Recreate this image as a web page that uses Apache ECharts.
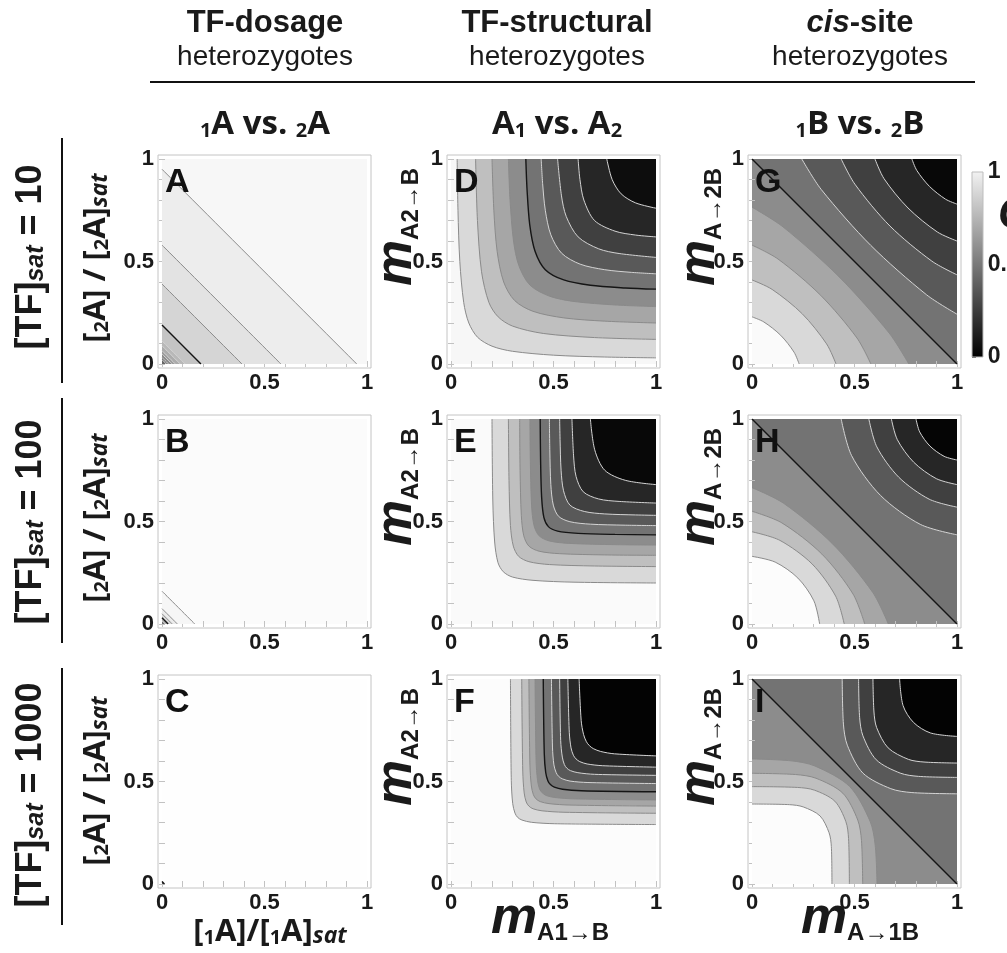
<!DOCTYPE html>
<html>
<head>
<meta charset="utf-8">
<script src="https://cdn.jsdelivr.net/npm/echarts@6/dist/echarts.min.js"></script>
<style>
  html, body { margin: 0; background: #fff; }
  #chart { width: 1007px; height: 953px; }
</style>
</head>
<body>
<div id="chart"></div>
<script>
// shared axis ticks
const tickValues = [0, 0.5, 1];
const tickLabels = ['0', '0.5', '1'];
const minorTicks = [0, 0.1, 0.2, 0.3, 0.4, 0.5, 0.6, 0.7, 0.8, 0.9, 1];
const barTicks = [0, 0.05, 0.1, 0.15, 0.2, 0.25, 0.3, 0.35, 0.4, 0.45, 0.5,
  0.55, 0.6, 0.65, 0.7, 0.75, 0.8, 0.85, 0.9, 0.95, 1];
const barLabels = [0, 0.5, 1];

// A: TF-dosage, [TF]sat = 10
const levelsA = [0.95, 0.91, 0.87, 0.8, 0.74, 0.7, 0.64, 0.58, 0.5, 0.42];
const linesA = [
  [[0, 0.95], [0.95, 0]], [[0, 0.58], [0.58, 0]], [[0, 0.39], [0.39, 0]],
  [[0, 0.19], [0.19, 0]], [[0, 0.113], [0.113, 0]], [[0, 0.089], [0.089, 0]],
  [[0, 0.065], [0.065, 0]], [[0, 0.049], [0.049, 0]], [[0, 0.032], [0.032, 0]],
  [[0, 0.021], [0.021, 0]]
];
const rangeA = [0.4, 0.97];

// B: TF-dosage, [TF]sat = 100
const levelsB = [0.98, 0.95, 0.9, 0.8, 0.6];
const linesB = [
  [[0, 0.16], [0.16, 0]], [[0, 0.075], [0.075, 0]], [[0, 0.05], [0.05, 0]],
  [[0, 0.03], [0.03, 0]], [[0, 0.015], [0.015, 0]]
];
const rangeB = [0.45, 0.985];

// C: TF-dosage, [TF]sat = 1000
const levelsC = [0.6];
const linesC = [[[0, 0.012], [0.012, 0]]];
const rangeC = [0.35, 0.995];

// D: TF-structural, [TF]sat = 10
const levelsD = [0.9, 0.8, 0.7, 0.6, 0.5, 0.4, 0.3, 0.2, 0.1];
const linesD = [
  [[0.03, 1], [0.034, 0.75], [0.043, 0.5], [0.062, 0.3], [0.087, 0.2], [0.13, 0.13], [0.2, 0.087], [0.3, 0.062], [0.5, 0.043], [0.75, 0.034], [1, 0.03]],
  [[0.12, 1], [0.129, 0.7], [0.149, 0.45], [0.185, 0.3], [0.23, 0.23], [0.3, 0.185], [0.45, 0.149], [0.7, 0.129], [1, 0.12]],
  [[0.2, 1], [0.209, 0.75], [0.225, 0.55], [0.257, 0.4], [0.31, 0.31], [0.4, 0.257], [0.55, 0.225], [0.75, 0.209], [1, 0.2]],
  [[0.28, 1], [0.288, 0.8], [0.305, 0.6], [0.331, 0.48], [0.385, 0.385], [0.48, 0.331], [0.6, 0.305], [0.8, 0.288], [1, 0.28]],
  [[0.365, 1], [0.371, 0.85], [0.384, 0.68], [0.41, 0.55], [0.46, 0.46], [0.55, 0.41], [0.68, 0.384], [0.85, 0.371], [1, 0.365]],
  [[0.44, 1], [0.447, 0.88], [0.46, 0.75], [0.487, 0.63], [0.54, 0.54], [0.63, 0.487], [0.75, 0.46], [0.88, 0.447], [1, 0.44]],
  [[0.52, 1], [0.539, 0.82], [0.562, 0.72], [0.62, 0.62], [0.72, 0.562], [0.82, 0.539], [1, 0.52]],
  [[0.62, 1], [0.629, 0.9], [0.648, 0.8], [0.7, 0.7], [0.8, 0.648], [0.9, 0.629], [1, 0.62]],
  [[0.76, 1], [0.786, 0.9], [0.83, 0.83], [0.9, 0.786], [1, 0.76]]
];
const rangeD = [0.05, 0.97];

// E: TF-structural, [TF]sat = 100
const levelsE = [0.9, 0.8, 0.7, 0.6, 0.5, 0.4, 0.3, 0.2, 0.1];
const linesE = [
  [[0.2, 1], [0.204, 0.6], [0.213, 0.4], [0.229, 0.3], [0.255, 0.255], [0.3, 0.229], [0.4, 0.213], [0.6, 0.204], [1, 0.2]],
  [[0.28, 1], [0.283, 0.7], [0.29, 0.48], [0.304, 0.38], [0.33, 0.33], [0.38, 0.304], [0.48, 0.29], [0.7, 0.283], [1, 0.28]],
  [[0.335, 1], [0.337, 0.75], [0.343, 0.53], [0.355, 0.43], [0.38, 0.38], [0.43, 0.355], [0.53, 0.343], [0.75, 0.337], [1, 0.335]],
  [[0.385, 1], [0.387, 0.8], [0.393, 0.58], [0.405, 0.48], [0.43, 0.43], [0.48, 0.405], [0.58, 0.393], [0.8, 0.387], [1, 0.385]],
  [[0.435, 1], [0.437, 0.8], [0.442, 0.62], [0.453, 0.52], [0.475, 0.475], [0.52, 0.453], [0.62, 0.442], [0.8, 0.437], [1, 0.435]],
  [[0.48, 1], [0.482, 0.85], [0.487, 0.68], [0.499, 0.58], [0.525, 0.525], [0.58, 0.499], [0.68, 0.487], [0.85, 0.482], [1, 0.48]],
  [[0.53, 1], [0.532, 0.9], [0.537, 0.75], [0.549, 0.65], [0.58, 0.58], [0.65, 0.549], [0.75, 0.537], [0.9, 0.532], [1, 0.53]],
  [[0.59, 1], [0.598, 0.82], [0.61, 0.72], [0.645, 0.645], [0.72, 0.61], [0.82, 0.598], [1, 0.59]],
  [[0.68, 1], [0.701, 0.85], [0.75, 0.75], [0.85, 0.701], [1, 0.68]]
];
const rangeE = [0.03, 0.98];

// F: TF-structural, [TF]sat = 1000
const levelsF = [0.9, 0.8, 0.7, 0.6, 0.5, 0.4, 0.3, 0.2, 0.1];
const linesF = [
  [[0.29, 1], [0.294, 0.506], [0.301, 0.392], [0.312, 0.346], [0.325, 0.325], [0.346, 0.312], [0.392, 0.301], [0.506, 0.294], [1, 0.29]],
  [[0.345, 1], [0.35, 0.551], [0.357, 0.444], [0.367, 0.4], [0.38, 0.38], [0.4, 0.367], [0.444, 0.357], [0.551, 0.35], [1, 0.345]],
  [[0.38, 1], [0.385, 0.58], [0.392, 0.478], [0.402, 0.435], [0.415, 0.415], [0.435, 0.402], [0.478, 0.392], [0.58, 0.385], [1, 0.38]],
  [[0.41, 1], [0.415, 0.604], [0.422, 0.506], [0.432, 0.464], [0.445, 0.445], [0.464, 0.432], [0.506, 0.422], [0.604, 0.415], [1, 0.41]],
  [[0.45, 1], [0.455, 0.636], [0.462, 0.544], [0.4725, 0.504], [0.485, 0.485], [0.504, 0.4725], [0.544, 0.462], [0.636, 0.455], [1, 0.45]],
  [[0.49, 1], [0.495, 0.668], [0.502, 0.581], [0.513, 0.543], [0.525, 0.525], [0.543, 0.513], [0.581, 0.502], [0.668, 0.495], [1, 0.49]],
  [[0.53, 1], [0.535, 0.7], [0.543, 0.619], [0.553, 0.5825], [0.565, 0.565], [0.5825, 0.553], [0.619, 0.543], [0.7, 0.535], [1, 0.53]],
  [[0.57, 1], [0.577, 0.74], [0.5855, 0.664], [0.597, 0.628], [0.61, 0.61], [0.628, 0.597], [0.664, 0.5855], [0.74, 0.577], [1, 0.57]],
  [[0.625, 1], [0.635, 0.7975], [0.6465, 0.73], [0.6605, 0.694], [0.675, 0.675], [0.694, 0.6605], [0.73, 0.6465], [0.7975, 0.635], [1, 0.625]]
];
const rangeF = [0.01, 0.99];

// G: cis-site, [TF]sat = 10
const levelsG = [0.9, 0.8, 0.7, 0.6, 0.5, 0.4, 0.3, 0.2, 0.1];
const linesG = [
  [[0, 0.23], [0.058, 0.205], [0.14, 0.14], [0.205, 0.058], [0.23, 0]],
  [[0, 0.41], [0.098, 0.364], [0.245, 0.245], [0.364, 0.098], [0.41, 0]],
  [[0, 0.58], [0.127, 0.512], [0.335, 0.335], [0.512, 0.127], [0.58, 0]],
  [[0, 0.765], [0.151, 0.669], [0.425, 0.425], [0.669, 0.151], [0.765, 0]],
  [[0, 1], [1, 0]],
  [[0.243, 1], [0.338, 0.851], [0.579, 0.579], [0.851, 0.338], [1, 0.243]],
  [[0.435, 1], [0.502, 0.877], [0.673, 0.673], [0.877, 0.502], [1, 0.435]],
  [[0.6, 1], [0.644, 0.904], [0.761, 0.761], [0.904, 0.644], [1, 0.6]],
  [[0.78, 1], [0.804, 0.944], [0.866, 0.866], [0.944, 0.804], [1, 0.78]]
];
const rangeG = [0.03, 0.98];

// H: cis-site, [TF]sat = 100
const levelsH = [0.9, 0.8, 0.7, 0.6, 0.5, 0.4, 0.3, 0.2, 0.1];
const linesH = [
  [[0, 0.33], [0.113, 0.302], [0.224, 0.224], [0.302, 0.113], [0.33, 0]],
  [[0, 0.45], [0.136, 0.408], [0.293, 0.293], [0.408, 0.136], [0.45, 0]],
  [[0, 0.55], [0.146, 0.493], [0.341, 0.341], [0.493, 0.146], [0.55, 0]],
  [[0, 0.665], [0.154, 0.589], [0.392, 0.392], [0.589, 0.154], [0.665, 0]],
  [[0, 1], [1, 0]],
  [[0.435, 1], [0.486, 0.821], [0.627, 0.627], [0.821, 0.486], [1, 0.435]],
  [[0.57, 1], [0.609, 0.864], [0.716, 0.716], [0.864, 0.609], [1, 0.57]],
  [[0.68, 1], [0.709, 0.899], [0.789, 0.789], [0.899, 0.709], [1, 0.68]],
  [[0.8, 1], [0.818, 0.937], [0.868, 0.868], [0.937, 0.818], [1, 0.8]]
];
const rangeH = [0.02, 0.99];

// I: cis-site, [TF]sat = 1000
const levelsI = [0.9, 0.8, 0.7, 0.6, 0.5, 0.4, 0.3, 0.2, 0.1];
const linesI = [
  [[0, 0.39], [0.183, 0.387], [0.25, 0.376], [0.332, 0.332], [0.376, 0.25], [0.387, 0.183], [0.39, 0]],
  [[0, 0.475], [0.222, 0.471], [0.304, 0.458], [0.404, 0.404], [0.458, 0.304], [0.471, 0.222], [0.475, 0]],
  [[0, 0.54], [0.212, 0.534], [0.312, 0.516], [0.443, 0.443], [0.516, 0.312], [0.534, 0.212], [0.54, 0]],
  [[0, 0.61], [0.189, 0.601], [0.306, 0.576], [0.476, 0.476], [0.576, 0.306], [0.601, 0.189], [0.61, 0]],
  [[0, 1], [1, 0]],
  [[0.44, 1], [0.446, 0.78], [0.465, 0.677], [0.541, 0.541], [0.677, 0.465], [0.78, 0.446], [1, 0.44]],
  [[0.52, 1], [0.525, 0.812], [0.541, 0.723], [0.606, 0.606], [0.723, 0.541], [0.812, 0.525], [1, 0.52]],
  [[0.59, 1], [0.595, 0.839], [0.608, 0.763], [0.664, 0.664], [0.763, 0.608], [0.839, 0.595], [1, 0.59]],
  [[0.72, 1], [0.737, 0.87], [0.788, 0.788], [0.87, 0.737], [1, 0.72]]
];
const rangeI = [0.01, 0.99];

const panelLetters = ['A', 'B', 'C', 'D', 'E', 'F', 'G', 'H', 'I'];

// ---- layout / style ----
const COL_LEFT = [158, 447, 748];
const ROW_TOP = [155, 415, 675];
const FRAME = 213;
const PAD = 4;
const INNER = FRAME - 2 * PAD;
const EXT = PAD / INNER;
const SMOOTH = 0.3;
const F_LAB = '"Liberation Sans", Arial, sans-serif';
const F_TTL = '"Open Sans", "Liberation Sans", sans-serif';
const INK = '#1a1a1a';

const panels = [
  { levels: levelsA, lines: linesA, range: rangeA, belowLow: true, dark: 0.8 },
  { levels: levelsB, lines: linesB, range: rangeB, belowLow: true, dark: 0.8 },
  { levels: levelsC, lines: linesC, range: rangeC, belowLow: true, dark: 0.6 },
  { levels: levelsD, lines: linesD, range: rangeD, belowLow: false, dark: 0.5 },
  { levels: levelsE, lines: linesE, range: rangeE, belowLow: false, dark: 0.5 },
  { levels: levelsF, lines: linesF, range: rangeF, belowLow: false, dark: 0.5 },
  { levels: levelsG, lines: linesG, range: rangeG, belowLow: false, dark: 0.5 },
  { levels: levelsH, lines: linesH, range: rangeH, belowLow: false, dark: 0.5 },
  { levels: levelsI, lines: linesI, range: rangeI, belowLow: false, dark: 0.5 }
];

function tone(v) {
  const g = Math.round(255 * Math.max(0, Math.min(1, v)));
  return 'rgb(' + g + ',' + g + ',' + g + ')';
}

function lineColor(level, dark) {
  if (level === dark) return '#151515';
  return level > dark ? '#8a8a8a' : '#d4d4d4';
}

const labelStyle = {
  fontFamily: F_LAB, fontWeight: 'bold', fontSize: 22, color: INK
};

function frameAxis(gridIndex, position, withLabels) {
  return {
    gridIndex, type: 'value', position,
    min: -EXT, max: 1 + EXT,
    axisLine: { show: false },
    splitLine: { show: false },
    axisTick: {
      inside: true, length: 3, customValues: minorTicks,
      lineStyle: { color: '#c2c2c2', width: 1 }
    },
    axisLabel: withLabels ? Object.assign({
      customValues: tickValues, margin: 4,
      formatter: v => tickLabels[tickValues.indexOf(v)]
    }, labelStyle) : { show: false }
  };
}

const grids = [], xAxes = [], yAxes = [], series = [];

panels.forEach((p, i) => {
  const col = Math.floor(i / 3), row = i % 3;
  const left = COL_LEFT[col], top = ROW_TOP[row];
  const ax = 3 * i;

  const fills = p.lines.map((pts, j) => {
    const level = p.levels[j];
    const above = pts[0][1] === 1;
    const low = above || p.belowLow;
    const others = p.levels.filter(l => (low ? l < level : l > level));
    let v;
    if (others.length) v = (level + (low ? Math.max(...others) : Math.min(...others))) / 2;
    else v = low ? p.range[0] : p.range[1];
    return { pts, level, above, low, v };
  });
  const lowLv = fills.filter(f => f.low).map(f => f.level);
  const highLv = fills.filter(f => !f.low).map(f => f.level);
  let base;
  if (lowLv.length && highLv.length) base = (Math.max(...lowLv) + Math.min(...highLv)) / 2;
  else if (lowLv.length) base = p.range[1];
  else base = p.range[0];

  grids.push({
    left, top, width: FRAME, height: FRAME, show: true,
    borderColor: '#c4c4c4', borderWidth: 1, backgroundColor: 'transparent'
  });
  grids.push({
    left: left + PAD, top: top + PAD, width: INNER, height: INNER, show: true,
    borderWidth: 0, backgroundColor: tone(base)
  });

  xAxes.push(frameAxis(2 * i, 'bottom', true), frameAxis(2 * i, 'top', false),
    { gridIndex: 2 * i + 1, type: 'value', min: 0, max: 1, show: false });
  yAxes.push(frameAxis(2 * i, 'left', true), frameAxis(2 * i, 'right', false),
    { gridIndex: 2 * i + 1, type: 'value', min: 0, max: 1, show: false });

  const ordered = fills.filter(f => !f.low).sort((a, b) => a.level - b.level)
    .concat(fills.filter(f => f.low).sort((a, b) => b.level - a.level));
  ordered.forEach(f => {
    series.push({
      type: 'line', xAxisIndex: ax + 2, yAxisIndex: ax + 2,
      data: f.pts, smooth: SMOOTH, symbol: 'none', silent: true, z: 2,
      lineStyle: { opacity: 0 },
      areaStyle: { origin: f.above ? 'end' : 'start', color: tone(f.v), opacity: 1 }
    });
  });
  fills.forEach(f => {
    series.push({
      type: 'line', xAxisIndex: ax + 2, yAxisIndex: ax + 2,
      data: f.pts, smooth: SMOOTH, symbol: 'none', silent: true, z: 3,
      lineStyle: { color: lineColor(f.level, p.dark), width: f.level === p.dark ? 1.4 : 1 }
    });
  });
});

// colour bar
grids.push({ left: 972, top: 172, width: 11, height: 185, show: false });
xAxes.push({ gridIndex: 18, type: 'value', show: false });
yAxes.push({
  gridIndex: 18, type: 'value', min: 0, max: 1, position: 'right',
  axisLine: { show: false }, splitLine: { show: false },
  axisTick: { length: 4, customValues: barTicks, lineStyle: { color: '#444' } },
  axisLabel: Object.assign({}, labelStyle, { customValues: barLabels, margin: 13, fontSize: 23,
    formatter: v => (v === 0.5 ? '0.5' : String(v)) })
});

// ---- texts ----
function txt(x, y, str, font, align) {
  return {
    type: 'text', x, y, silent: true, z: 10,
    style: { text: str, font, fill: INK, align: align || 'center', verticalAlign: 'middle',
      textAlign: align || 'center', textVerticalAlign: 'middle' }
  };
}
function rich(x, y, str, richStyles, rotation) {
  return {
    type: 'text', x, y, rotation: rotation || 0, silent: true, z: 10,
    style: { text: str, rich: richStyles, fill: INK, align: 'center', verticalAlign: 'middle',
      textAlign: 'center', textVerticalAlign: 'middle' }
  };
}
function hline(x1, y1, x2, y2, w) {
  return { type: 'line', silent: true, z: 10, shape: { x1, y1, x2, y2 },
    style: { stroke: '#111', lineWidth: w } };
}

const richRow = {
  a: { font: 'bold 36px ' + F_LAB, lineHeight: 44, verticalAlign: 'bottom' },
  s: { font: 'italic bold 25px ' + F_LAB, lineHeight: 24, verticalAlign: 'bottom' }
};
const richCol = {
  a: { font: 'bold 33px ' + F_TTL, lineHeight: 40, verticalAlign: 'bottom' },
  s: { font: 'bold 20px ' + F_TTL, lineHeight: 22, verticalAlign: 'bottom' }
};
const richConc = {
  a: { font: 'bold 31px ' + F_TTL, lineHeight: 40, verticalAlign: 'bottom' },
  s: { font: 'bold 20px ' + F_TTL, lineHeight: 22, verticalAlign: 'bottom' },
  i: { font: 'italic bold 23px ' + F_TTL, lineHeight: 24, verticalAlign: 'bottom' }
};
const richM = {
  m: { font: 'italic bold 52px ' + F_LAB, lineHeight: 54, verticalAlign: 'bottom' },
  s: { font: 'bold 24px ' + F_LAB, lineHeight: 24, verticalAlign: 'bottom' }
};
const richCis = {
  i: { font: 'italic bold 31px ' + F_LAB },
  b: { font: 'bold 31px ' + F_LAB }
};

const R90 = Math.PI / 2;
const graphics = [
  txt(265, 23, 'TF-dosage', 'bold 31px ' + F_LAB),
  txt(265, 57, 'heterozygotes', '28px ' + F_LAB),
  txt(557, 23, 'TF-structural', 'bold 31px ' + F_LAB),
  txt(557, 57, 'heterozygotes', '28px ' + F_LAB),
  rich(860, 23, '{i|cis}{b|-site}', richCis),
  txt(860, 57, 'heterozygotes', '28px ' + F_LAB),
  hline(150, 82, 975, 82, 2),

  rich(265, 121, '{s|1}{a|A vs. }{s|2}{a|A}', richCol),
  rich(557, 121, '{a|A}{s|1}{a| vs. A}{s|2}', richCol),
  rich(860, 121, '{s|1}{a|B vs. }{s|2}{a|B}', richCol),

  rich(27, 257, '{a|[TF]}{s|sat}{a| = 10}', richRow, R90),
  rich(27, 522, '{a|[TF]}{s|sat}{a| = 100}', richRow, R90),
  rich(27, 795, '{a|[TF]}{s|sat}{a| = 1000}', richRow, R90),
  hline(62, 138, 62, 383, 2),
  hline(62, 398, 62, 643, 2),
  hline(62, 668, 62, 925, 2),

  rich(92, 258, '{a|[}{s|2}{a|A] / [}{s|2}{a|A]}{i|sat}', richConc, R90),
  rich(92, 518, '{a|[}{s|2}{a|A] / [}{s|2}{a|A]}{i|sat}', richConc, R90),
  rich(92, 781, '{a|[}{s|2}{a|A] / [}{s|2}{a|A]}{i|sat}', richConc, R90),

  rich(396, 227, '{m|m}{s|A2→B}', richM, R90),
  rich(396, 487, '{m|m}{s|A2→B}', richM, R90),
  rich(396, 747, '{m|m}{s|A2→B}', richM, R90),
  rich(699, 227, '{m|m}{s|A→2B}', richM, R90),
  rich(699, 487, '{m|m}{s|A→2B}', richM, R90),
  rich(699, 747, '{m|m}{s|A→2B}', richM, R90),

  rich(270, 928, '{a|[}{s|1}{a|A]/[}{s|1}{a|A]}{i|sat}', richConc),
  rich(550, 918, '{m|m}{s|A1→B}', richM),
  rich(860, 918, '{m|m}{s|A→1B}', richM),

  { type: 'rect', silent: true, z: 5, shape: { x: 972, y: 172, width: 11, height: 185 },
    style: { fill: new echarts.graphic.LinearGradient(0, 0, 0, 1, [
      { offset: 0, color: '#f2f2f2' }, { offset: 1, color: '#000' }]),
      stroke: '#bdbdbd', lineWidth: 1 } },
  txt(998, 216, 'C', 'italic bold 44px ' + F_LAB, 'left')
];

panelLetters.forEach((letter, i) => {
  const col = Math.floor(i / 3), row = i % 3;
  graphics.push({
    type: 'text', silent: true, z: 10,
    x: COL_LEFT[col] + PAD + 3, y: ROW_TOP[row] + PAD + 7,
    style: { text: letter, font: 'bold 34px ' + F_LAB, fill: '#111',
      align: 'left', verticalAlign: 'top', textAlign: 'left', textVerticalAlign: 'top' }
  });
});

const chart = echarts.init(document.getElementById('chart'));
chart.setOption({
  animation: false,
  backgroundColor: '#fff',
  grid: grids,
  xAxis: xAxes,
  yAxis: yAxes,
  series,
  graphic: { elements: graphics }
});
</script>
</body>
</html>
